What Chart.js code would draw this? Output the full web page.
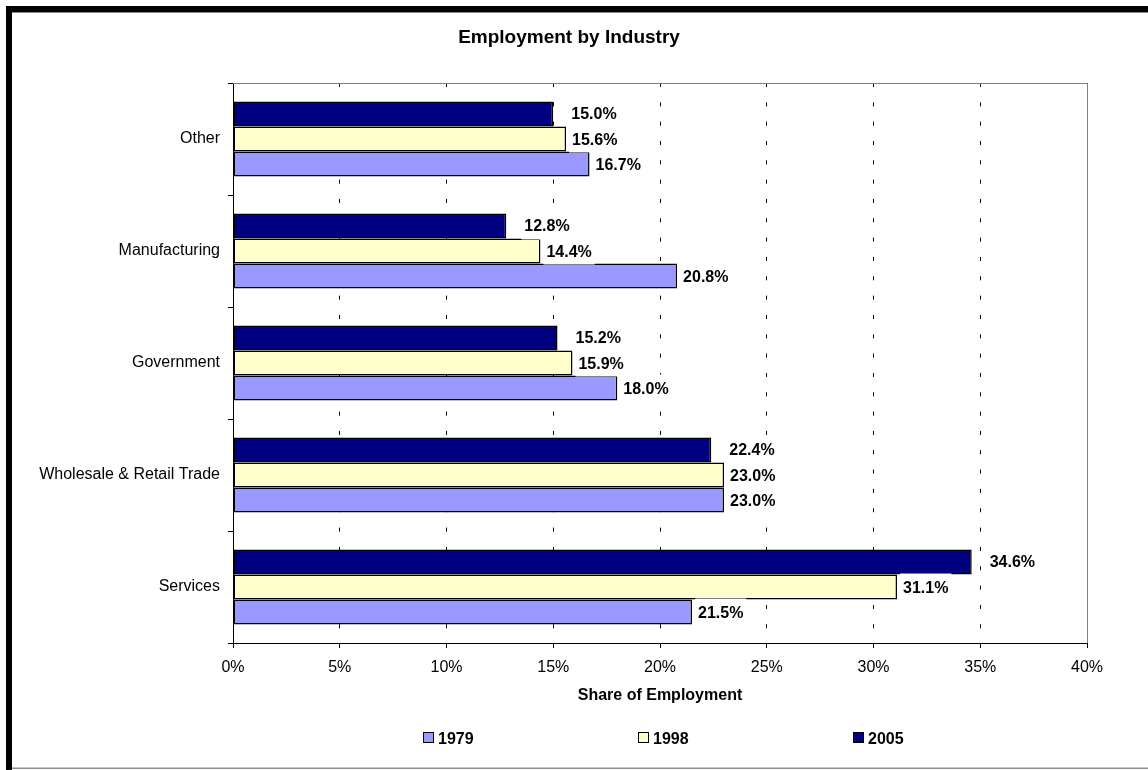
<!DOCTYPE html>
<html>
<head>
<meta charset="utf-8">
<title>Employment by Industry</title>
<script src="https://cdn.jsdelivr.net/npm/chart.js@4.4.0/dist/chart.umd.min.js"></script>
<style>
  html, body { margin: 0; padding: 0; background: #ffffff; }
  canvas { display: block; }
</style>
</head>
<body>
<canvas id="chart" width="1148" height="770"></canvas>
<script>
// Industries, listed top to bottom
const industries = ['Other', 'Manufacturing', 'Government', 'Wholesale & Retail Trade', 'Services'];

// Share of employment (%) by year
const share1979 = [16.7, 20.8, 18.0, 23.0, 21.5];
const share1998 = [15.6, 14.4, 15.9, 23.0, 31.1];
const share2005 = [15.0, 12.8, 15.2, 22.4, 34.6];

const xTickLabels = ['0%', '5%', '10%', '15%', '20%', '25%', '30%', '35%', '40%'];

const chartTitle = 'Employment by Industry';
const xAxisTitle = 'Share of Employment';

const FONT = '"Liberation Sans", Arial, Helvetica, sans-serif';

// Extra drawing: background, plot frame, value labels, title, axis title, legend, outer frame
const decorations = {
  id: 'decorations',
  beforeDraw(chart) {
    const ctx = chart.ctx;
    ctx.save();
    ctx.fillStyle = '#ffffff';
    ctx.fillRect(0, 0, chart.width, chart.height);
    ctx.restore();
  },
  beforeDatasetsDraw(chart) {
    const { ctx, chartArea: a } = chart;
    ctx.save();
    ctx.strokeStyle = '#808080';
    ctx.lineWidth = 1;
    ctx.beginPath();
    ctx.moveTo(a.left, a.top + 0.5);
    ctx.lineTo(a.right + 0.5, a.top + 0.5);
    ctx.lineTo(a.right + 0.5, a.bottom);
    ctx.stroke();
    ctx.restore();
  },
  afterDatasetsDraw(chart) {
    const ctx = chart.ctx;
    ctx.save();
    ctx.font = 'bold 16px ' + FONT;
    ctx.textAlign = 'left';
    ctx.textBaseline = 'alphabetic';
    chart.data.datasets.forEach((ds, di) => {
      const meta = chart.getDatasetMeta(di);
      const gap = ds.label === '2005' ? 18 : 6;
      meta.data.forEach((bar, i) => {
        const txt = ds.data[i].toFixed(1) + '%';
        const tx = bar.x + gap;
        const w = ctx.measureText(txt).width;
        ctx.fillStyle = '#ffffff';
        ctx.fillRect(tx - 3, bar.y - 13.5, w + 6, 27);
        ctx.fillStyle = '#000000';
        ctx.fillText(txt, tx, bar.y + 5.5);
      });
    });
    ctx.restore();
  },
  afterDraw(chart) {
    const { ctx, chartArea: a } = chart;
    ctx.save();
    ctx.fillStyle = '#000000';
    ctx.textAlign = 'center';
    ctx.textBaseline = 'alphabetic';

    // chart title
    ctx.font = 'bold 19px ' + FONT;
    ctx.fillText(chartTitle, 569, 42.5);

    // x axis title
    ctx.font = 'bold 16px ' + FONT;
    ctx.fillText(xAxisTitle, (a.left + a.right) / 2, 699.5);

    // legend (oldest year first)
    const items = chart.data.datasets.slice().reverse();
    const pitch = 215;
    const cx = 663;
    ctx.font = 'bold 16px ' + FONT;
    ctx.textAlign = 'left';
    items.forEach((ds, i) => {
      const tw = ctx.measureText(ds.label).width;
      const itemW = 11 + 4 + tw;
      const x0 = Math.round(cx + (i - 1) * pitch - itemW / 2);
      ctx.fillStyle = ds.backgroundColor;
      ctx.fillRect(x0, 732, 11, 11);
      ctx.strokeStyle = '#000000';
      ctx.lineWidth = 1;
      ctx.strokeRect(x0 + 0.5, 732.5, 10, 10);
      ctx.fillStyle = '#000000';
      ctx.fillText(ds.label, x0 + 15, 743.5);
    });

    // outer frame
    ctx.fillStyle = '#000000';
    ctx.fillRect(6, 6, chart.width - 6, 6);
    ctx.fillRect(6, 6, 6, chart.height - 6);
    ctx.fillStyle = '#8c8c8c';
    ctx.fillRect(12, 12, chart.width - 12, 1);
    ctx.fillRect(12, 767.5, chart.width - 12, 1.5);
    ctx.restore();
  }
};

new Chart(document.getElementById('chart'), {
  type: 'bar',
  data: {
    labels: industries,
    datasets: [
      { label: '2005', data: share2005, backgroundColor: '#000080' },
      { label: '1998', data: share1998, backgroundColor: '#FFFFCC' },
      { label: '1979', data: share1979, backgroundColor: '#9999FF' }
    ].map(d => Object.assign(d, {
      borderColor: '#000000',
      borderWidth: 1.5,
      borderSkipped: false,
      categoryPercentage: 0.67,
      barPercentage: 1.0
    }))
  },
  options: {
    indexAxis: 'y',
    responsive: false,
    animation: false,
    devicePixelRatio: 1,
    layout: { padding: { top: 83, right: 61, left: 0, bottom: 0 } },
    plugins: {
      legend: { display: false },
      title: { display: false },
      tooltip: { enabled: false }
    },
    scales: {
      x: {
        min: 0,
        max: 40,
        afterFit(scale) { scale.height = 127; },
        afterBuildTicks(scale) {
          scale.ticks = xTickLabels.map((_, i) => ({ value: i * 5 }));
        },
        ticks: {
          color: '#000000',
          font: { family: FONT, size: 16 },
          padding: 10,
          maxRotation: 0,
          autoSkip: false,
          callback: (v, i) => xTickLabels[i]
        },
        grid: {
          color: '#000000',
          lineWidth: 1,
          drawTicks: true,
          tickLength: 5,
          tickColor: '#000000',
          tickBorderDash: []
        },
        border: { display: true, color: '#000000', width: 1, dash: [4, 15.33] }
      },
      y: {
        afterFit(scale) { scale.width = 233; },
        ticks: {
          color: '#000000',
          font: { family: FONT, size: 16 },
          padding: 8,
          autoSkip: false
        },
        grid: {
          offset: true,
          drawOnChartArea: false,
          drawTicks: true,
          tickLength: 5,
          tickColor: '#000000'
        },
        border: { display: true, color: '#000000', width: 1 }
      }
    }
  },
  plugins: [decorations]
});
</script>
</body>
</html>
